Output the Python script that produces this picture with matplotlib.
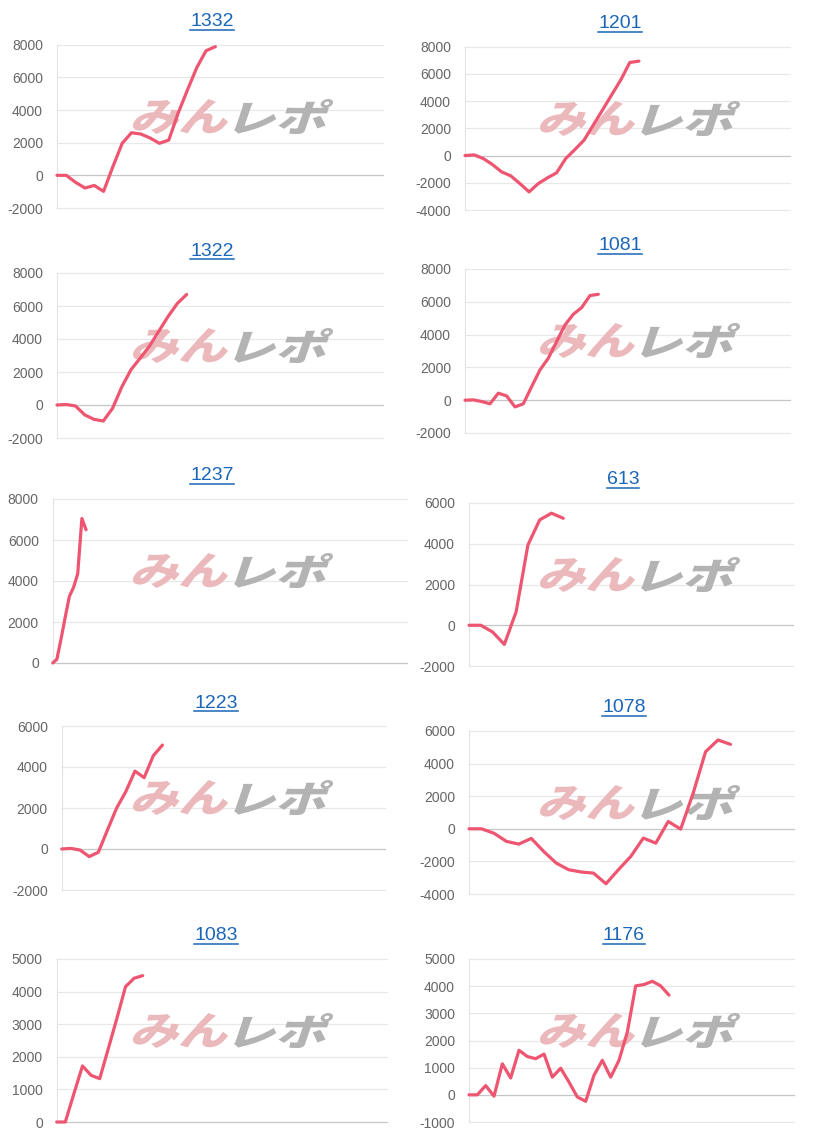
import matplotlib
matplotlib.use("Agg")
import numpy as np
import matplotlib.pyplot as plt
import matplotlib.transforms as mtransforms
from matplotlib.textpath import TextPath
from matplotlib.patches import PathPatch
from matplotlib.font_manager import FontProperties
from matplotlib.lines import Line2D

# ---------------- data ----------------
titles = ["1332", "1201", "1322", "1081", "1237", "613", "1223", "1078", "1083", "1176"]

v1332 = [0, 0, -430, -775, -620, -980, 530, 1960, 2610, 2530, 2285, 1960, 2160, 3800, 5220, 6590, 7630, 7880]
v1201 = [0, 50, -220, -660, -1200, -1490, -2060, -2670, -2060, -1640, -1270, -220, 440, 1130, 2230, 3330, 4440, 5540, 6840, 6940]
v1322 = [0, 30, -60, -600, -870, -970, -200, 1100, 2150, 2850, 3580, 4480, 5370, 6160, 6700]
v1081 = [0, 20, -80, -220, 430, 260, -410, -220, 830, 1850, 2560, 3580, 4590, 5240, 5650, 6380, 6460]
v1237 = [0, 180, 1170, 2230, 3250, 3690, 4350, 7050, 6500]
v613 = [0, 0, -330, -940, 660, 3940, 5170, 5500, 5250]
v1223 = [0, 30, -50, -370, -160, 930, 2000, 2800, 3800, 3480, 4550, 5070]
v1078 = [0, 0, -270, -770, -940, -590, -1390, -2100, -2510, -2650, -2720, -3370, -2510, -1690,
         -570, -880, 450, -20, 2180, 4730, 5450, 5180]
v1083 = [0, 0, 870, 1720, 1430, 1330, 2250, 3180, 4150, 4410, 4490]
v1176 = [0, 0, 340, -50, 1140, 620, 1640, 1410, 1330, 1500, 650, 980, 470, -80, -240, 720,
         1270, 650, 1270, 2310, 4010, 4060, 4180, 4010, 3670]

series = [v1332, v1201, v1322, v1081, v1237, v613, v1223, v1078, v1083, v1176]

# y-axis ranges (min, max, step)
y_ranges = [(-2000, 8000, 2000), (-4000, 8000, 2000), (-2000, 8000, 2000), (-2000, 8000, 2000),
            (0, 8000, 2000), (-2000, 6000, 2000), (-2000, 6000, 2000), (-4000, 6000, 2000),
            (0, 5000, 1000), (-1000, 5000, 1000)]
# number of x category intervals spanned by each axis
x_spans = [35, 35.5, 35.2, 39, 85, 27.5, 35.3, 26.1, 38.4, 39]

# ---------------- layout (pixels) ----------------
W, H = 816, 1140
rects = [(57, 44.7, 383, 208), (465, 46.7, 790, 210),
         (57, 273, 383, 438), (465, 269, 790, 433),
         (52.7, 499, 407, 663), (469, 503, 793, 666),
         (61.7, 726, 385, 890), (469, 731, 794, 894),
         (56.7, 959, 387, 1122), (469, 959, 794, 1122)]
title_pos = [(212, 22), (620, 24), (212, 251), (620, 246), (212, 476),
             (623, 480), (216, 703), (624, 708), (216, 936), (624, 936)]

LINE = "#ee5571"
GRID = "#e8e8e8"
ZERO = "#c6c6c6"
TICKC = "#666666"
LINK = "#1a66b8"

fig = plt.figure(figsize=(W / 100, H / 100), dpi=100)
renderer = fig.canvas.get_renderer()

wm_font = FontProperties(family="Noto Sans CJK JP", weight="black")


def watermark_patch(text, box, color):
    """box = (x0, top, x1, bottom) in pixels (top-origin)."""
    p = TextPath((0, 0), text, size=10, prop=wm_font)
    p = mtransforms.Affine2D().skew_deg(14, 0).transform_path(p)
    ext = p.get_extents()
    x0, top, x1, bot = box
    sx = (x1 - x0) / ext.width
    sy = (bot - top) / ext.height
    tr = (mtransforms.Affine2D().translate(-ext.x0, -ext.y0).scale(sx, sy)
          .translate(x0, H - bot).scale(1 / 100.0))
    p = tr.transform_path(p)
    return PathPatch(p, facecolor=color, edgecolor="none", transform=fig.dpi_scale_trans,
                     zorder=1.5, clip_on=False)


for i, vals in enumerate(series):
    l, t, r, b = rects[i]
    ax = fig.add_axes([l / W, 1 - b / H, (r - l) / W, (b - t) / H])
    ax.set_facecolor("none")
    ymin, ymax, step = y_ranges[i]
    ticks = np.arange(ymin, ymax + 1, step)
    ax.set_xlim(0, x_spans[i])
    ax.set_ylim(ymin, ymax)
    ax.set_xticks([])
    ax.set_yticks(ticks)
    ax.set_yticklabels([str(int(v)) for v in ticks])
    for s in ax.spines.values():
        s.set_visible(False)
    ax.spines["left"].set_visible(True)
    ax.spines["left"].set_color("#e2e2e2")
    ax.spines["left"].set_linewidth(0.8)
    for tk in ticks:
        ax.axhline(tk, color=ZERO if tk == 0 else GRID, lw=0.9, zorder=0.5, clip_on=False)
    ax.tick_params(axis="y", length=0, pad=10, labelsize=10, labelcolor=TICKC)
    for lab in ax.get_yticklabels():
        lab.set_fontfamily("Liberation Sans")

    ax.plot(range(len(vals)), vals, color=LINE, lw=2.3, solid_joinstyle="round",
            solid_capstyle="round", zorder=3, clip_on=False)

    # title link
    cx, cy = title_pos[i]
    txt = fig.text(cx / W, 1 - cy / H, titles[i], ha="center", va="center", color=LINK,
                   fontsize=14, family="Liberation Sans")
    bb = txt.get_window_extent(renderer)
    uy = (bb.y0 + 1) / 100.0
    fig.add_artist(Line2D([bb.x0 / 100.0, bb.x1 / 100.0], [uy, uy], color=LINK, lw=1.1,
                          transform=fig.dpi_scale_trans))

    # watermark
    wx = 133 if i % 2 == 0 else 540
    wy = cy + 95
    ax.add_patch(watermark_patch("みん", (wx, wy - 18, wx + 95, wy + 17), "#ebb9bc"))
    ax.add_patch(watermark_patch("レポ", (wx + 101, wy - 18, wx + 200, wy + 17), "#b3b3b3"))

fig.savefig("out.png", dpi=100, facecolor="white")
